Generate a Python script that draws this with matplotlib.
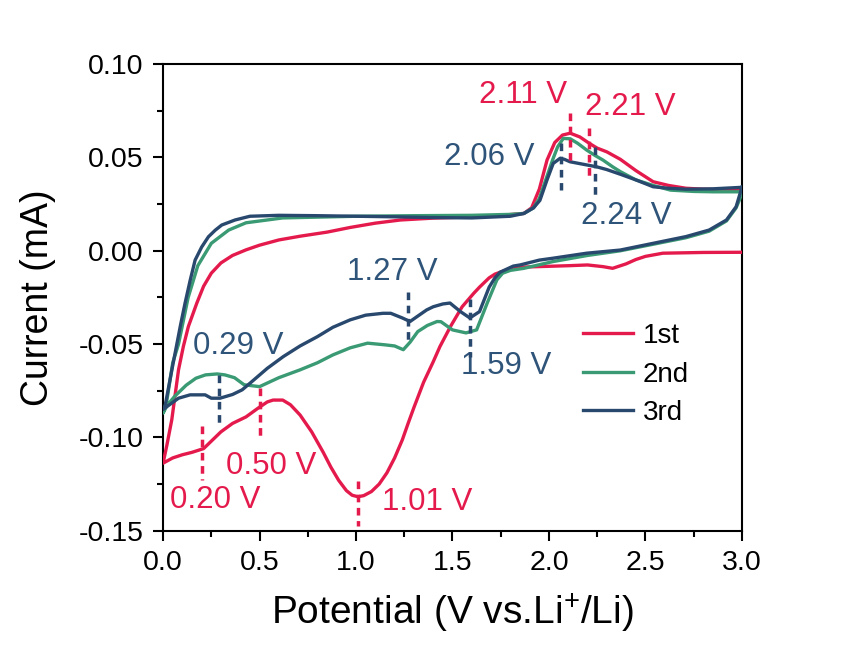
import matplotlib
matplotlib.use('Agg')
import matplotlib.pyplot as plt
import numpy as np

plt.rcParams['font.family'] = ['Liberation Sans', 'DejaVu Sans']
plt.rcParams['mathtext.fontset'] = 'custom'
plt.rcParams['mathtext.rm'] = 'Liberation Sans'
plt.rcParams['mathtext.default'] = 'regular'

# 1st cycle: cathodic scan 3.0 -> 0 V, then anodic 0 -> 3.0 V
v1 = [3.00, 2.80, 2.59, 2.50, 2.45, 2.40, 2.33, 2.28, 2.20, 2.10, 1.94, 1.85, 1.78, 1.72, 1.69,
      1.64, 1.61, 1.55, 1.49, 1.435, 1.40, 1.35, 1.30, 1.27, 1.24, 1.20, 1.16, 1.12, 1.08, 1.04,
      1.01, 0.98, 0.95, 0.91, 0.87, 0.83, 0.77, 0.71, 0.66, 0.62, 0.57, 0.54, 0.49, 0.43, 0.36,
      0.30, 0.25, 0.21, 0.15, 0.10, 0.05, 0.00,
      0.02, 0.045, 0.08, 0.105, 0.131, 0.175, 0.21, 0.25, 0.30, 0.36, 0.43, 0.50, 0.60, 0.71,
      0.85, 0.97, 1.10, 1.23, 1.40, 1.55, 1.64, 1.75, 1.87, 1.91, 1.95, 1.99, 2.03, 2.07, 2.11,
      2.16, 2.21, 2.25, 2.30, 2.37, 2.45, 2.54, 2.62, 2.71, 2.80, 2.90, 3.00]
i1 = [-0.0008, -0.0009, -0.0013, -0.0030, -0.0047, -0.0070, -0.0094, -0.0085, -0.0076, -0.0080,
      -0.0085, -0.0088, -0.0103, -0.0125, -0.0145, -0.0195, -0.0228, -0.0300, -0.0405, -0.0513,
      -0.0595, -0.0705, -0.0840, -0.0925, -0.1013, -0.1110, -0.1190, -0.1250, -0.1290, -0.1312,
      -0.1318, -0.1310, -0.1285, -0.1230, -0.1160, -0.1080, -0.0970, -0.0880, -0.0825, -0.0800,
      -0.0800, -0.0810, -0.0845, -0.0890, -0.0925, -0.0970, -0.1020, -0.1060, -0.1080, -0.1093,
      -0.1110, -0.1138,
      -0.1040, -0.0906, -0.0638, -0.0513, -0.0406, -0.0280, -0.0190, -0.0120, -0.0065, -0.0025,
      0.0005, 0.0030, 0.0058, 0.0078, 0.0100, 0.0125, 0.0148, 0.0165, 0.0175, 0.0180, 0.0183,
      0.0190, 0.0200, 0.0230, 0.0330, 0.0486, 0.0580, 0.0620, 0.0630, 0.0610, 0.0575, 0.0550,
      0.0530, 0.0490, 0.0430, 0.0370, 0.0350, 0.0335, 0.0330, 0.0327, 0.0326]

# 2nd cycle
v2 = [3.00, 2.99, 2.97, 2.92, 2.83, 2.71, 2.54, 2.37, 2.20, 2.02, 1.87, 1.80, 1.76, 1.73, 1.68,
      1.625, 1.57, 1.50, 1.44, 1.42, 1.37, 1.32, 1.28, 1.245, 1.20, 1.15, 1.06, 0.97, 0.88, 0.80,
      0.71, 0.60, 0.50, 0.42, 0.37, 0.32, 0.28, 0.22, 0.17, 0.12, 0.06, 0.02, 0.00,
      0.02, 0.05, 0.08, 0.13, 0.18, 0.25, 0.34, 0.43, 0.62, 1.00, 1.30, 1.60, 1.80, 1.87, 1.92,
      1.95, 1.99, 2.02, 2.045, 2.074, 2.11, 2.15, 2.195, 2.24, 2.28, 2.33, 2.37, 2.45, 2.54, 2.63,
      2.75, 2.85, 3.00]
i2 = [0.0316, 0.0280, 0.0230, 0.0160, 0.0105, 0.0070, 0.0035, 0.0000, -0.0025, -0.0058, -0.0094,
      -0.0105, -0.0120, -0.0156, -0.0280, -0.0424, -0.0440, -0.0424, -0.0380, -0.0379, -0.0400,
      -0.0433, -0.0490, -0.0530, -0.0510, -0.0504, -0.0495, -0.0520, -0.0558, -0.0600, -0.0638,
      -0.0680, -0.0728, -0.0718, -0.0680, -0.0665, -0.0660, -0.0665, -0.0683, -0.0720, -0.0780,
      -0.0830, -0.0870,
      -0.0800, -0.0600, -0.0500, -0.0250, -0.0080, 0.0040, 0.0111, 0.0150, 0.0176, 0.0185,
      0.0188, 0.0190, 0.0195, 0.0200, 0.0230, 0.0280, 0.0400, 0.0490, 0.0557, 0.0602, 0.0600,
      0.0575, 0.0540, 0.0510, 0.0486, 0.0450, 0.0424, 0.0380, 0.0350, 0.0325, 0.0318, 0.0316,
      0.0316]

# 3rd cycle
v3 = [3.00, 2.97, 2.92, 2.83, 2.71, 2.54, 2.37, 2.195, 2.02, 1.95, 1.85, 1.815, 1.746, 1.72,
      1.69, 1.64, 1.59, 1.54, 1.487, 1.45, 1.40, 1.366, 1.32, 1.28, 1.24, 1.18, 1.14, 1.05, 0.97,
      0.88, 0.80, 0.71, 0.623, 0.54, 0.45, 0.41, 0.36, 0.295, 0.25, 0.218, 0.14, 0.08, 0.04, 0.00,
      0.01, 0.036, 0.062, 0.09, 0.114, 0.14, 0.166, 0.20, 0.235, 0.27, 0.304, 0.373, 0.45, 0.60,
      0.80, 1.00, 1.20, 1.40, 1.60, 1.80, 1.87, 1.92, 1.953, 1.99, 2.022, 2.057, 2.08, 2.109,
      2.17, 2.247, 2.30, 2.37, 2.45, 2.54, 2.62, 2.71, 2.85, 3.00]
i3 = [0.0340, 0.0236, 0.0165, 0.0111, 0.0076, 0.0040, 0.0004, -0.0013, -0.0040, -0.0050, -0.0076,
      -0.0082, -0.0115, -0.0145, -0.0195, -0.0326, -0.0360, -0.0325, -0.0280, -0.0285, -0.0300,
      -0.0317, -0.0350, -0.0379, -0.0360, -0.0335, -0.0335, -0.0345, -0.0370, -0.0410, -0.0460,
      -0.0510, -0.0567, -0.0630, -0.0710, -0.0745, -0.0770, -0.0790, -0.0790, -0.0772, -0.0772,
      -0.0790, -0.0820, -0.0850,
      -0.0834, -0.0690, -0.0550, -0.0400, -0.0280, -0.0160, -0.0050, 0.0020, 0.0075, 0.0110,
      0.0138, 0.0165, 0.0185, 0.0190, 0.0188, 0.0185, 0.0182, 0.0178, 0.0176, 0.0185, 0.0200,
      0.0230, 0.0270, 0.0380, 0.0468, 0.0495, 0.0490, 0.0477, 0.0465, 0.0450, 0.0435, 0.0410,
      0.0380, 0.0343, 0.0335, 0.0330, 0.0332, 0.0340]

labels = ['1st', '2nd', '3rd']

# peak markers: (potential, top, bottom, text, text x, text y, colour key)
peaks = [
    (2.11, 0.0738, 0.0470, '2.11 V', 1.865, 0.0834, 'r'),
    (2.21, 0.0657, 0.0390, '2.21 V', 2.42, 0.0770, 'r'),
    (2.06, 0.0577, 0.0326, '2.06 V', 1.69, 0.0500, 'b'),
    (2.24, 0.0557, 0.0290, '2.24 V', 2.40, 0.0186, 'b'),
    (1.27, -0.0219, -0.0486, '1.27 V', 1.19, -0.0113, 'b'),
    (1.59, -0.0260, -0.0567, '1.59 V', 1.777, -0.0620, 'b'),
    (0.29, -0.0665, -0.0932, '0.29 V', 0.389, -0.0510, 'b'),
    (0.20, -0.0940, -0.1227, '0.20 V', 0.269, -0.1334, 'r'),
    (0.50, -0.0734, -0.1013, '0.50 V', 0.56, -0.1152, 'r'),
    (1.01, -0.1236, -0.1477, '1.01 V', 1.368, -0.1345, 'r'),
]

红 = '#E51A4C'
绿 = '#3A9A74'
蓝 = '#29486E'
蓝字 = '#2F5479'

fig = plt.figure(figsize=(8.45, 6.48), dpi=100)
ax = fig.add_axes([0.193, 0.181, 0.685, 0.720])

ax.plot(v1, i1, color=红, lw=2.4, label=labels[0], zorder=3)
ax.plot(v2, i2, color=绿, lw=2.4, label=labels[1], zorder=4)
ax.plot(v3, i3, color=蓝, lw=2.4, label=labels[2], zorder=5)

for x, y0, y1, txt, tx, ty, c in peaks:
    lc = 红 if c == 'r' else 蓝
    tc = 红 if c == 'r' else 蓝字
    ax.plot([x, x], [y0, y1], color=lc, lw=2.5, ls=(0, (2.2, 1.6)), zorder=6)
    ax.text(tx, ty, txt, color=tc, fontsize=22.5, ha='center', va='center')

ax.set_xlim(0, 3.0)
ax.set_ylim(-0.15, 0.10)
ax.set_xticks(np.arange(0, 3.01, 0.5))
ax.set_xticks(np.arange(0, 3.01, 0.25), minor=True)
ax.set_yticks(np.arange(-0.15, 0.101, 0.05))
ax.set_yticks(np.arange(-0.15, 0.101, 0.025), minor=True)
ax.set_xticklabels(['0.0', '0.5', '1.0', '1.5', '2.0', '2.5', '3.0'])
ax.set_yticklabels(['-0.15', '-0.10', '-0.05', '0.00', '0.05', '0.10'])
ax.tick_params(which='major', direction='out', length=7, width=1.5, labelsize=20.5, pad=7)
ax.tick_params(which='minor', direction='out', length=4, width=1.5)
for s in ax.spines.values():
    s.set_linewidth(1.5)

ax.set_xlabel('Potential (V vs.Li$^{+}$/Li)', fontsize=28, labelpad=11)
ax.set_ylabel('Current (mA)', fontsize=27, labelpad=16)

ax.legend(loc='upper left', bbox_to_anchor=(0.725, 0.445), frameon=False, fontsize=20,
          handlelength=1.8, handletextpad=0.35, labelspacing=0.45, borderpad=0, borderaxespad=0)

fig.savefig('out.png', dpi=100)
